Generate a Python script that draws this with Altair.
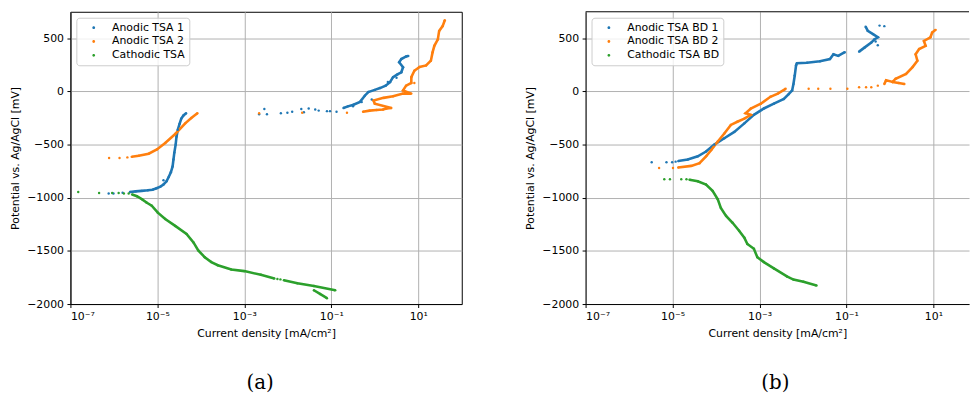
import altair as alt
import pandas as pd

# ---------------- data (log10 of current density [mA/cm2], potential [mV]) -------------
A_SERIES = ["Anodic TSA 1", "Anodic TSA 2", "Cathodic TSA"]
B_SERIES = ["Anodic TSA BD 1", "Anodic TSA BD 2", "Cathodic TSA BD"]
COLORS = ["#1f77b4", "#ff7f0e", "#2ca02c"]

# Panel (a) - Anodic TSA 1
A1_DOTS_LX = [-6.12, -6.01, -5.80, -4.86, -2.66, -2.54, -2.48, -2.16, -2.01, -1.90, -1.69,
              -1.63, -1.52, -1.37, -1.29, -1.10, -1.03, -0.88, -0.50, -0.30, -0.07, 0.30, 0.50]
A1_DOTS_MV = [-960, -960, -952, -835, -215, -165, -215, -205, -200, -190, -165,
              -195, -160, -170, -180, -185, -185, -190, -140, -100, -75, 90, 130]
A1_LOW_LX = [-5.63, -5.50, -5.36, -5.22, -5.11, -5.02, -4.93, -4.86, -4.79, -4.74, -4.69,
             -4.65, -4.63, -4.61, -4.58, -4.56, -4.53, -4.49, -4.45, -4.40, -4.34]
A1_LOW_MV = [-945, -940, -935, -930, -925, -910, -895, -875, -845, -805, -760,
             -705, -640, -575, -500, -425, -360, -305, -255, -225, -205]
A1_HIGH_LX = [-0.72, -0.62, -0.49, -0.34, -0.23, -0.15, 0.00, 0.12, 0.25, 0.35, 0.42,
              0.52, 0.61, 0.65, 0.56, 0.61, 0.72, 0.77]
A1_HIGH_MV = [-155, -140, -125, -98, -40, -5, 15, 32, 55, 88, 135,
              160, 181, 228, 275, 305, 330, 335]

# Panel (a) - Anodic TSA 2
A2_DOTS_LX = [-6.11, -5.87, -5.69, -2.66, -1.67, -0.64, 0.91]
A2_DOTS_MV = [-625, -625, -620, -205, -200, -200, 80]
A2_LOW_LX = [-5.59, -5.43, -5.20, -5.01, -4.82, -4.59, -4.36, -4.22, -4.08]
A2_LOW_MV = [-615, -605, -585, -545, -485, -400, -300, -250, -205]
A2_HIGH_LX = [-0.27, -0.12, 0.04, 0.19, 0.27, 0.38, 0.00, -0.03, 0.20, 0.42, 0.65, 0.84,
              0.65, 0.72, 0.84, 0.84, 0.91, 1.03, 1.18, 1.29, 1.33, 1.37, 1.45, 1.48, 1.56, 1.61]
A2_HIGH_MV = [-190, -180, -175, -170, -160, -155, -115, -85, -60, -45, -20, -20,
              10, 55, 80, 135, 195, 230, 245, 290, 370, 430, 490, 570, 615, 670]

# Panel (a) - Cathodic TSA
A3_DOTS_LX = [-6.82, -6.34, -6.04, -5.89, -5.77, -5.66, -2.24, -2.17]
A3_DOTS_MV = [-945, -955, -955, -955, -960, -960, -1765, -1768]
A3_MAIN_LX = [-5.58, -5.47, -5.35, -5.25, -5.13, -4.99, -4.82, -4.59, -4.33, -4.17, -4.06,
              -3.91, -3.76, -3.61, -3.30, -3.00, -2.62, -2.31]
A3_MAIN_MV = [-970, -985, -1015, -1045, -1075, -1140, -1200, -1265, -1340, -1420, -1495,
              -1560, -1605, -1635, -1675, -1690, -1725, -1760]
A3_TAIL_LX = [-2.09, -1.78, -1.40, -0.91]
A3_TAIL_MV = [-1775, -1805, -1830, -1870]
A3_BRANCH_LX = [-1.40, -1.26, -1.10]
A3_BRANCH_MV = [-1870, -1905, -1945]

# Panel (b) - Anodic TSA BD 1
B1_DOTS_LX = [-5.48, -5.14, -5.01, -4.93, -0.28, -0.33, -0.24, -0.13]
B1_DOTS_MV = [-665, -665, -665, -660, 435, 470, 620, 615]
B1_MAIN_LX = [-4.87, -4.65, -4.42, -4.23, -4.04, -3.81, -3.58, -3.35, -3.13, -2.90, -2.67,
              -2.44, -2.33, -2.25, -2.22, -2.19, -2.16, -2.14, -1.91, -1.61, -1.38, -1.30,
              -1.19, -1.04]
B1_MAIN_MV = [-655, -640, -610, -565, -500, -440, -380, -300, -220, -160, -115,
              -70, -25, 10, 70, 150, 245, 265, 270, 285, 305, 350,
              335, 370]
B1_HIGH_LX = [-0.71, -0.58, -0.43, -0.36, -0.28, -0.39, -0.51, -0.56]
B1_HIGH_MV = [375, 415, 460, 490, 510, 540, 570, 610]

# Panel (b) - Anodic TSA BD 2
B2_DOTS_LX = [-5.31, -4.99, -1.87, -1.65, -1.37, -0.98, -0.71, -0.55, -0.43, -0.28]
B2_DOTS_MV = [-720, -720, 25, 25, 25, 25, 40, 40, 40, 55]
B2_MAIN_LX = [-4.87, -4.57, -4.38, -4.23, -4.11, -3.96, -3.81, -3.66, -3.51, -3.35, -3.20,
              -3.32, -3.20, -2.97, -2.75, -2.58, -2.40]
B2_MAIN_MV = [-715, -700, -675, -610, -550, -470, -395, -315, -285, -255, -220,
              -205, -160, -115, -50, -20, 25]
B2_HIGH_LX = [-0.13, -0.09, 0.06, 0.13, 0.37, 0.52, 0.63, 0.59, 0.67, 0.82, 0.78, 0.93, 0.97, 1.05]
B2_HIGH_MV = [70, 105, 90, 120, 165, 230, 290, 350, 400, 430, 475, 510, 555, 580]
B2_BRANCH_LX = [0.06, 0.20, 0.33]
B2_BRANCH_MV = [90, 80, 70]

# Panel (b) - Cathodic TSA BD
B3_DOTS_LX = [-5.19, -5.06, -4.80, -4.68]
B3_DOTS_MV = [-825, -825, -825, -825]
B3_MAIN_LX = [-4.61, -4.42, -4.23, -4.08, -3.96, -3.89, -3.77, -3.62, -3.47, -3.35, -3.28,
              -3.13, -3.05, -2.90, -2.67, -2.37, -2.22, -1.99, -1.69]
B3_MAIN_MV = [-830, -845, -875, -935, -1015, -1095, -1170, -1235, -1310, -1375, -1435,
              -1480, -1560, -1605, -1665, -1740, -1770, -1790, -1825]

X_TICKS = [1e-7, 1e-5, 1e-3, 1e-1, 1e1]
Y_TICKS = [-2000, -1500, -1000, -500, 0, 500]

SEGMENTS = [
    ("a", A_SERIES[0], "a1d", False, A1_DOTS_LX, A1_DOTS_MV),
    ("a", A_SERIES[0], "a1l", True, A1_LOW_LX, A1_LOW_MV),
    ("a", A_SERIES[0], "a1h", True, A1_HIGH_LX, A1_HIGH_MV),
    ("a", A_SERIES[1], "a2d", False, A2_DOTS_LX, A2_DOTS_MV),
    ("a", A_SERIES[1], "a2l", True, A2_LOW_LX, A2_LOW_MV),
    ("a", A_SERIES[1], "a2h", True, A2_HIGH_LX, A2_HIGH_MV),
    ("a", A_SERIES[2], "a3d", False, A3_DOTS_LX, A3_DOTS_MV),
    ("a", A_SERIES[2], "a3m", True, A3_MAIN_LX, A3_MAIN_MV),
    ("a", A_SERIES[2], "a3t", True, A3_TAIL_LX, A3_TAIL_MV),
    ("a", A_SERIES[2], "a3b", True, A3_BRANCH_LX, A3_BRANCH_MV),
    ("b", B_SERIES[0], "b1d", False, B1_DOTS_LX, B1_DOTS_MV),
    ("b", B_SERIES[0], "b1m", True, B1_MAIN_LX, B1_MAIN_MV),
    ("b", B_SERIES[0], "b1h", True, B1_HIGH_LX, B1_HIGH_MV),
    ("b", B_SERIES[1], "b2d", False, B2_DOTS_LX, B2_DOTS_MV),
    ("b", B_SERIES[1], "b2m", True, B2_MAIN_LX, B2_MAIN_MV),
    ("b", B_SERIES[1], "b2h", True, B2_HIGH_LX, B2_HIGH_MV),
    ("b", B_SERIES[1], "b2b", True, B2_BRANCH_LX, B2_BRANCH_MV),
    ("b", B_SERIES[2], "b3d", False, B3_DOTS_LX, B3_DOTS_MV),
    ("b", B_SERIES[2], "b3m", True, B3_MAIN_LX, B3_MAIN_MV),
]

rows = []
for panel, series, seg, dense, lxs, mvs in SEGMENTS:
    for i, (lx, mv) in enumerate(zip(lxs, mvs)):
        rows.append({"panel": panel, "series": series, "seg": seg, "dense": dense,
                     "idx": i, "cur": 10 ** lx, "mv": mv})
df = pd.DataFrame(rows)

LABEL_EXPR = ("datum.value < 1e-6 ? '10\u207b\u2077' : datum.value < 1e-4 ? '10\u207b\u2075' : "
              "datum.value < 1e-2 ? '10\u207b\u00b3' : datum.value < 1 ? '10\u207b\u00b9' : '10\u00b9'")
Y_LABEL_EXPR = "replace(format(datum.value, 'd'), '-', '\u2212')"

# legend marker: small dot drawn a little right of the symbol slot
LEGEND_DOT = "M4.66,0A1,1,0,1,0,6.66,0A1,1,0,1,0,4.66,0Z"

PLOT_H = 295


def panel(data, names, xmax, width, caption, cap_dx, open_right):
    xscale = alt.Scale(type="log", domain=[1e-7, xmax], nice=False)
    yscale = alt.Scale(domain=[-2000, 750], nice=False, zero=False)
    x = alt.X("cur:Q", scale=xscale,
              axis=alt.Axis(values=X_TICKS, labelExpr=LABEL_EXPR, grid=True,
                            title="Current density [mA/cm\u00b2]"))
    y = alt.Y("mv:Q", scale=yscale,
              axis=alt.Axis(values=Y_TICKS, labelExpr=Y_LABEL_EXPR, grid=True,
                            title="Potential vs. Ag/AgCl [mV]"))
    cscale = alt.Scale(domain=names, range=COLORS)
    legend = alt.Legend(orient="top-left", offset=6, padding=4, rowPadding=2, clipHeight=12,
                        labelFontSize=11, labelFont="DejaVu Sans", labelColor="#000",
                        symbolSize=8, symbolType=LEGEND_DOT, symbolStrokeWidth=0,
                        symbolOffset=0, labelOffset=21,
                        strokeColor="#cccccc", fillColor="rgba(255,255,255,0.8)",
                        cornerRadius=3, title=None)
    color = alt.Color("series:N", scale=cscale, legend=legend)
    base = alt.Chart(data)
    lines = base.transform_filter(alt.datum.dense).mark_line(strokeWidth=2.6).encode(
        x=x, y=y, color=color, detail="seg:N", order="idx:Q")
    pts = base.mark_circle(size=6, opacity=1).encode(x=x, y=y, color=color)
    layers = [lines, pts]
    if open_right:
        top = alt.Chart(pd.DataFrame({"spine": ["top"]})).mark_rule(
            color="#000", strokeWidth=1).encode(
            x=alt.value(0), x2=alt.value(width), y=alt.value(0))
        layers.append(top)
    props = dict(width=width, height=PLOT_H,
                 title=alt.TitleParams(caption, orient="bottom", anchor="middle",
                                       font="DejaVu Serif", fontSize=20, fontWeight="normal",
                                       color="#000", offset=35, dx=cap_dx))
    if open_right:
        props["view"] = alt.ViewBackground(stroke="transparent")
    return alt.layer(*layers).properties(**props)


left = panel(df[df.panel == "a"], A_SERIES, 1e2, 395, "(a)", -6, False)
right = panel(df[df.panel == "b"], B_SERIES, 10 ** 1.8175, 387, "(b)", -2, True)

chart = alt.hconcat(left, right, spacing=62).resolve_scale(color="independent").properties(
    padding={"left": 1, "top": 1, "right": 0, "bottom": 0}
).configure_axis(
    labelFont="DejaVu Sans", labelFontSize=11, labelColor="#000",
    titleFont="DejaVu Sans", titleFontSize=11, titleColor="#000", titleFontWeight="normal",
    tickColor="#000", tickSize=3.5, tickWidth=1, labelPadding=3.5,
    domainColor="#000", domainWidth=1, gridColor="#b0b0b0", gridWidth=1, titlePadding=6
).configure_view(stroke="#000", strokeWidth=1)

chart.save("out.html", embed_options={"renderer": "svg", "actions": False})
